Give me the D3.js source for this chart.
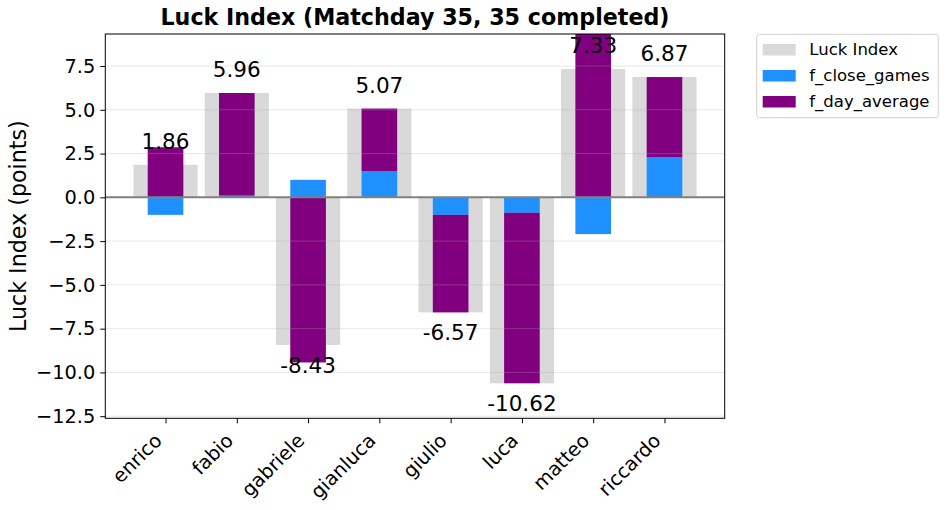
<!DOCTYPE html>
<html>
<head>
<meta charset="utf-8">
<script src="https://cdn.jsdelivr.net/npm/d3@7"></script>
<style>
    body { margin: 0; background: #fff; }
    text { font-family: "DejaVu Sans", sans-serif; }
</style>
</head>
<body>
<svg id="chart" width="947" height="510"></svg>
<script>
// data
const players = ['enrico', 'fabio', 'gabriele', 'gianluca', 'giulio', 'luca', 'matteo', 'riccardo']
const luckIndex = [1.86, 5.96, -8.43, 5.07, -6.57, -10.62, 7.33, 6.87]
const fCloseGames = [-1.0, 0.1, 1.0, 1.5, -1.0, -0.88, -2.1, 2.3]
const fDayAverage = [2.86, 5.86, -9.43, 3.57, -5.57, -9.74, 9.43, 4.57]
const yTicks = [-12.5, -10.0, -7.5, -5.0, -2.5, 0.0, 2.5, 5.0, 7.5]

const TITLE = 'Luck Index (Matchday 35, 35 completed)'
const Y_LABEL = 'Luck Index (points)'

const GREY = '#d9d9d9'
const BLUE = '#1e90ff'
const PURPLE = '#800080'

const LEGEND = [
    { text: 'Luck Index', color: GREY },
    { text: 'f_close_games', color: BLUE },
    { text: 'f_day_average', color: PURPLE }
]

const plot = { left: 105.3, right: 724.7, top: 34, bottom: 418.3 }

const svg = d3.select('#chart')

const x = d3.scaleLinear().domain([-0.845, players.length - 1 + 0.845]).range([plot.left, plot.right])
const y = d3.scaleLinear().domain([-12.62, 9.33]).range([plot.bottom, plot.top])

const rows = players.map((name, i) => {
    const close = fCloseGames[i]
    const day = fDayAverage[i]
    // day-average bar sits on the close-games bar when both have the same sign
    const base = Math.sign(close) === Math.sign(day) ? close : 0
    return { name, i, luck: luckIndex[i], close, day, base }
})

svg.append('defs').append('clipPath').attr('id', 'plot-clip')
    .append('rect')
    .attr('x', plot.left).attr('y', plot.top)
    .attr('width', plot.right - plot.left).attr('height', plot.bottom - plot.top)

const gBars = svg.append('g').attr('clip-path', 'url(#plot-clip)')

gBars.selectAll('.luck').data(rows).join('rect')
    .attr('class', 'luck')
    .attr('x', d => x(d.i - 0.45))
    .attr('width', x(0.9) - x(0))
    .attr('y', d => y(Math.max(0, d.luck)))
    .attr('height', d => Math.abs(y(d.luck) - y(0)))
    .attr('fill', GREY)

gBars.selectAll('.close').data(rows).join('rect')
    .attr('class', 'close')
    .attr('x', d => x(d.i - 0.25))
    .attr('width', x(0.5) - x(0))
    .attr('y', d => y(Math.max(0, d.close)))
    .attr('height', d => Math.abs(y(d.close) - y(0)))
    .attr('fill', BLUE)

gBars.selectAll('.day').data(rows).join('rect')
    .attr('class', 'day')
    .attr('x', d => x(d.i - 0.25))
    .attr('width', x(0.5) - x(0))
    .attr('y', d => y(Math.max(d.base, d.base + d.day)))
    .attr('height', d => Math.abs(y(d.base + d.day) - y(d.base)))
    .attr('fill', PURPLE)

// grid over the bars, like matplotlib's default
svg.append('g').selectAll('line').data(yTicks).join('line')
    .attr('x1', plot.left).attr('x2', plot.right)
    .attr('y1', d => y(d)).attr('y2', d => y(d))
    .attr('stroke', '#b0b0b0')
    .attr('stroke-opacity', 0.3)
    .attr('stroke-width', 1)

svg.append('line')
    .attr('x1', plot.left).attr('x2', plot.right)
    .attr('y1', y(0)).attr('y2', y(0))
    .attr('stroke', '#808080')
    .attr('stroke-width', 2)

// value labels
svg.append('g').selectAll('text').data(rows).join('text')
    .attr('x', d => x(d.i))
    .attr('y', d => d.luck >= 0 ? y(d.luck) - 15.8 : y(d.luck) + 28)
    .attr('text-anchor', 'middle')
    .attr('font-size', 21.5)
    .attr('fill', '#000')
    .text(d => d.luck.toFixed(2))

// axes frame
svg.append('rect')
    .attr('x', plot.left).attr('y', plot.top)
    .attr('width', plot.right - plot.left).attr('height', plot.bottom - plot.top)
    .attr('fill', 'none')
    .attr('stroke', '#000')
    .attr('stroke-width', 1)

const yAxis = svg.append('g')
    .attr('transform', `translate(${plot.left},0)`)
    .call(d3.axisLeft(y).tickValues(yTicks).tickSize(5).tickPadding(5)
        .tickFormat(d => d3.format('.1f')(d).replace('-', '\u2212')))
yAxis.select('.domain').remove()
yAxis.selectAll('text')
    .attr('font-size', 19.4)
    .attr('font-family', '"DejaVu Sans", sans-serif')
    .attr('fill', '#000')

const xAxis = svg.append('g')
    .attr('transform', `translate(0,${plot.bottom})`)
    .call(d3.axisBottom(x).tickValues(d3.range(players.length)).tickSize(5)
        .tickFormat(i => players[i]))
xAxis.select('.domain').remove()
xAxis.selectAll('text')
    .attr('font-size', 19.4)
    .attr('font-family', '"DejaVu Sans", sans-serif')
    .attr('fill', '#000')
    .attr('text-anchor', 'end')
    .attr('dy', null)
    .attr('y', 0)
    .attr('transform', 'translate(-3,23.5) rotate(-45)')

svg.append('text')
    .attr('x', (plot.left + plot.right) / 2)
    .attr('y', 25)
    .attr('text-anchor', 'middle')
    .attr('font-size', 22.2)
    .attr('font-weight', 'bold')
    .text(TITLE)

svg.append('text')
    .attr('transform', `translate(26,${(plot.top + plot.bottom) / 2}) rotate(-90)`)
    .attr('text-anchor', 'middle')
    .attr('font-size', 22.2)
    .text(Y_LABEL)

// legend, outside on the right
const legend = svg.append('g')
legend.append('rect')
    .attr('x', 756.7).attr('y', 34.3)
    .attr('width', 181.6).attr('height', 83.4)
    .attr('rx', 3)
    .attr('fill', '#fff')
    .attr('stroke', '#d0d0d0')
    .attr('stroke-width', 1)

const legendItems = legend.selectAll('g').data(LEGEND).join('g')
    .attr('transform', (d, i) => `translate(0,${i * 26})`)
legendItems.append('rect')
    .attr('x', 762.7).attr('y', 44)
    .attr('width', 33).attr('height', 11.5)
    .attr('fill', d => d.color)
legendItems.append('text')
    .attr('x', 809.3).attr('y', 55)
    .attr('font-size', 16.5)
    .attr('fill', '#000')
    .text(d => d.text)
</script>
</body>
</html>
